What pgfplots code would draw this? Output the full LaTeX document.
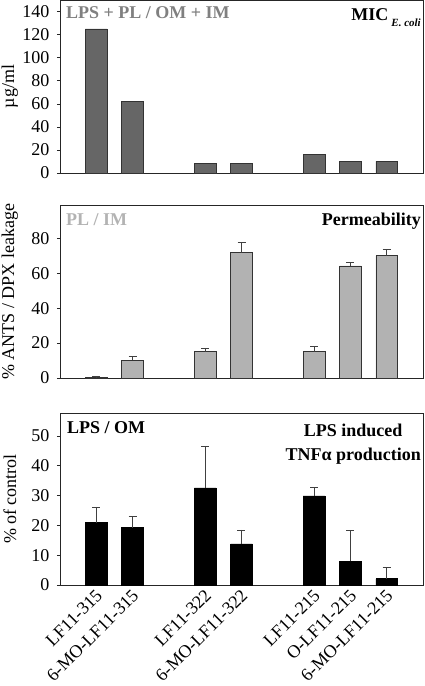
\documentclass[border=0pt]{standalone}
\usepackage{fontspec}
\setmainfont{Liberation Serif}
\usepackage{pgfplots}
\usepackage{pgfplotstable}
\pgfplotsset{compat=1.18}

\definecolor{darkbar}{HTML}{666666}
\definecolor{lightbar}{HTML}{B2B2B2}
\definecolor{edgecol}{HTML}{333333}
\definecolor{annogray}{HTML}{808080}
\definecolor{annolight}{HTML}{B3B3B3}

\pgfplotstableread{
x y
1 125
2 62
4 8
5 8
7 16
8 10
9 10
}\mic

\pgfplotstableread{
x y e
1 0.4 0.3
2 10.2 2.1
4 15.0 2.2
5 71.7 5.8
7 15.0 3.3
8 64.1 2.1
9 70.1 3.4
}\perm

\pgfplotstableread{
x y e
1 20.9 5.3
2 19.2 3.8
4 32.6 13.9
5 13.8 4.7
7 29.9 2.9
8 7.9 10.4
9 2.1 3.7
}\tnf

\pgfplotsset{
  panel/.style={
    scale only axis, width=363pt, height=173pt,
    xmin=0, xmax=10, ymin=0,
    axis line style={black!85, line width=0.8pt},
    ybar, bar width=0.6,
    xtick={1,2,4,5,7,8,9},
    x tick style={draw=none},
    ytick pos=left,
    tick align=outside,
    major tick length=3pt,
    y tick style={black!85, line width=0.6pt},
    tick label style={font=\fontsize{18}{20}\selectfont},
    yticklabel style={xshift=-4pt},
    /pgf/number format/assume math mode=true,
    ylabel style={font=\fontsize{18}{20}\selectfont, at={(axis description cs:-0.138,0.5)}, anchor=center},
  },
  ebar/.style={
    error bars/.cd, y dir=plus, y explicit,
    error mark=-,
    error bar style={black!75, line width=0.7pt},
    error mark options={black!75, line width=0.7pt, mark size=4pt, rotate=90},
  },
}

\begin{document}
\begin{tikzpicture}
\path[use as bounding box] (-60pt,0pt) rectangle (365pt,-686pt);

% Panel 1
\begin{axis}[panel, at={(0pt,0pt)}, anchor=north west,
  ymax=150, ytick={0,20,...,140}, xticklabels={},
  ylabel={µg/ml}]
\addplot[fill=darkbar, draw=edgecol, line width=0.6pt] table[x=x,y=y]{\mic};
\node[anchor=base west, inner sep=0, text=annogray, font=\fontsize{18}{20}\selectfont\bfseries]
  at (rel axis cs:0,1) [xshift=6pt, yshift=-18pt] {LPS + PL / OM + IM};
\node[anchor=base east, inner sep=0, font=\fontsize{18}{20}\selectfont\bfseries]
  at (rel axis cs:1,1) [xshift=-2pt, yshift=-20pt] {MIC\,\raisebox{-0.35em}{\fontsize{11}{12}\selectfont\bfseries\itshape E. coli}};
\end{axis}

% Panel 2
\begin{axis}[panel, at={(0pt,-205pt)}, anchor=north west,
  ymax=99, ytick={0,20,...,80}, xticklabels={},
  ylabel={\% ANTS / DPX leakage}]
\addplot[fill=lightbar, draw=edgecol, line width=0.6pt, ebar] table[x=x,y=y,y error=e]{\perm};
\node[anchor=base west, inner sep=0, text=annolight, font=\fontsize{18}{20}\selectfont\bfseries]
  at (rel axis cs:0,1) [xshift=6pt, yshift=-20pt] {PL / IM};
\node[anchor=base east, inner sep=0, font=\fontsize{18}{20}\selectfont\bfseries]
  at (rel axis cs:1,1) [xshift=-2pt, yshift=-20pt] {Permeability};
\end{axis}

% Panel 3
\begin{axis}[panel, at={(0pt,-413pt)}, anchor=north west, height=172pt,
  ymax=57.7, ytick={0,10,...,50},
  xticklabels={LF11-315,6-MO-LF11-315,LF11-322,6-MO-LF11-322,LF11-215,O-LF11-215,6-MO-LF11-215},
  xticklabel style={rotate=45, anchor=north east, inner sep=1pt, yshift=2pt},
  ylabel={\% of control}]
\addplot[fill=black, draw=black, line width=0.6pt, ebar] table[x=x,y=y,y error=e]{\tnf};
\node[anchor=base west, inner sep=0, font=\fontsize{18}{20}\selectfont\bfseries]
  at (rel axis cs:0,1) [xshift=7pt, yshift=-20pt] {LPS / OM};
\node[anchor=north east, inner sep=0, align=center, font=\fontsize{18}{24}\selectfont\bfseries]
  at (rel axis cs:1,1) [xshift=-2pt, yshift=-11pt] {LPS induced\\TNFα production};
\end{axis}
\end{tikzpicture}
\end{document}
